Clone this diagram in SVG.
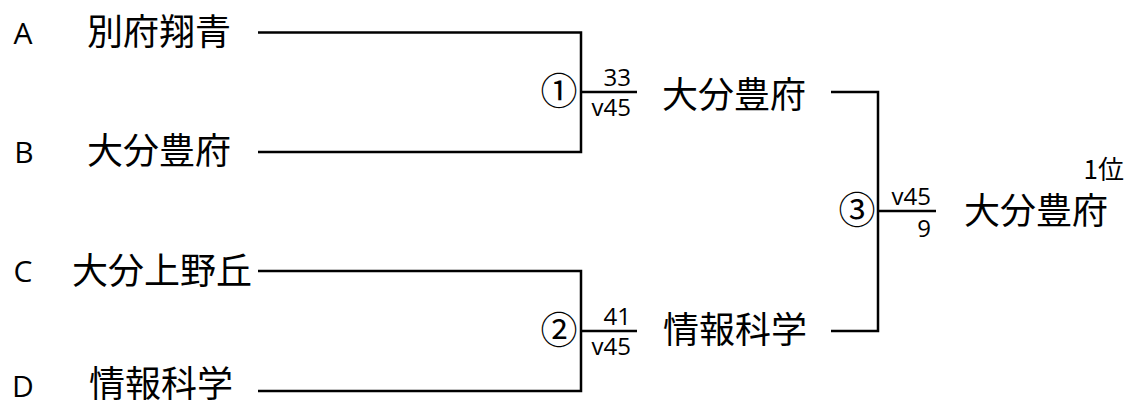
<svg xmlns="http://www.w3.org/2000/svg" width="1128" height="407" viewBox="0 0 1128 407">
<style>
text{font-family:"Noto Sans CJK JP","Noto Sans",sans-serif;fill:#000}
.team{font-size:36px;text-anchor:middle}
.seed{font-family:"Open Sans","Noto Sans",sans-serif;font-size:30px;text-anchor:middle}
.score{font-family:"Open Sans","Noto Sans",sans-serif;font-size:24px;text-anchor:end}
.circ{font-size:37px;text-anchor:middle}
.rank{font-size:26px;text-anchor:end}
.ln{fill:none;stroke:#000;stroke-width:2.5}
</style>
<rect width="1128" height="407" fill="#fff"/>
<g id="connectors">
<path class="ln" d="M258,32.5 H581 V152 H258"/>
<path class="ln" d="M581,92 H637"/>
<path class="ln" d="M258,271 H581 V391 H258"/>
<path class="ln" d="M581,331 H637"/>
<path class="ln" d="M831,92 H878 V331 H831"/>
<path class="ln" d="M878,211 H936"/>
</g>
<g id="teamA"><text class="seed" x="23" y="44">A</text><text class="team" x="159" y="45">別府翔青</text></g>
<g id="teamB"><text class="seed" x="24" y="163">B</text><text class="team" x="159" y="164">大分豊府</text></g>
<g id="teamC"><text class="seed" x="23" y="282">C</text><text class="team" x="162" y="284">大分上野丘</text></g>
<g id="teamD"><text class="seed" x="23" y="397">D</text><text class="team" x="161" y="397">情報科学</text></g>
<g id="match1"><text class="circ" x="559" y="105">①</text><text class="score" x="631" y="86">33</text><text class="score" x="631" y="116">v45</text></g>
<g id="match2"><text class="circ" x="559" y="344">②</text><text class="score" x="631" y="325">41</text><text class="score" x="631" y="355">v45</text></g>
<g id="winner1"><text class="team" x="734" y="108">大分豊府</text></g>
<g id="winner2"><text class="team" x="735" y="343">情報科学</text></g>
<g id="match3"><text class="circ" x="857" y="224">③</text><text class="score" x="931" y="205">v45</text><text class="score" x="931" y="237">9</text></g>
<g id="champion"><text class="rank" x="1124" y="179">1位</text><text class="team" x="1036" y="224">大分豊府</text></g>
</svg>
